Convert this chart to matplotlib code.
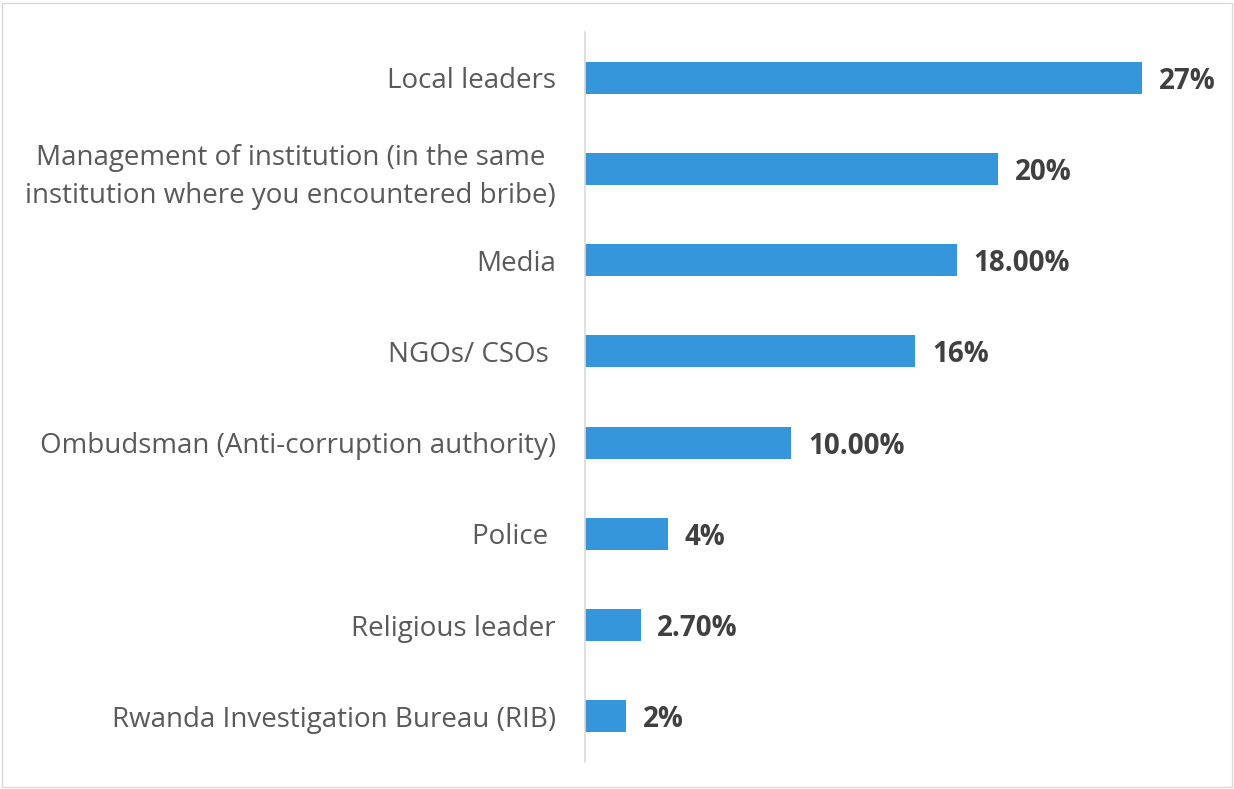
import matplotlib.pyplot as plt
from matplotlib.patches import Rectangle

plt.rcParams['font.family'] = ['Open Sans', 'DejaVu Sans']

# ----------------------------------- Data ----------------------------------- #
categories = [
    "Local leaders",
    "Management of institution (in the same\ninstitution where you encountered bribe)",
    "Media",
    "NGOs/ CSOs ",
    "Ombudsman (Anti-corruption authority)",
    "Police ",
    "Religious leader",
    "Rwanda Investigation Bureau (RIB)",
]
values = [27, 20, 18, 16, 10, 4, 2.7, 2]
value_labels = ["27%", "20%", "18.00%", "16%", "10.00%", "4%", "2.70%", "2%"]

BAR_COLOR = "#3596DB"
LABEL_COLOR = "#595959"
VALUE_COLOR = "#404040"

# ---------------------------------- Figure ---------------------------------- #
fig = plt.figure(figsize=(12.34, 7.89), dpi=100)
ax = fig.add_axes([0.474, 0.0342, 0.502, 0.9252])

pos = list(range(len(categories)))
bars = ax.barh(pos, values, height=0.35, color=BAR_COLOR)
ax.set_ylim(len(categories) - 0.5, -0.5)
ax.set_xlim(0, 30)

ax.set_yticks(pos)
ax.set_yticklabels(categories, fontsize=20, color=LABEL_COLOR)
for t in ax.get_yticklabels():
    t.set_multialignment("center")
    t.set_linespacing(1.45)
ax.tick_params(axis="y", length=0, pad=21)
ax.set_xticks([])

for sp in ["top", "right", "bottom"]:
    ax.spines[sp].set_visible(False)
ax.spines["left"].set_color("#D9D9D9")
ax.spines["left"].set_linewidth(1.2)

for bar, lbl in zip(bars, value_labels):
    ax.annotate(lbl, (bar.get_width(), bar.get_y() + bar.get_height() / 2),
                xytext=(12, 0), textcoords="offset points",
                va="center_baseline", ha="left", fontsize=20, fontweight="bold",
                color=VALUE_COLOR)

# thin frame round the whole chart
fig.patches.append(Rectangle((0.002, 0.003), 0.996, 0.993, transform=fig.transFigure,
                             fill=False, edgecolor="#D9D9D9", linewidth=1))

fig.savefig("out.png", dpi=100)
